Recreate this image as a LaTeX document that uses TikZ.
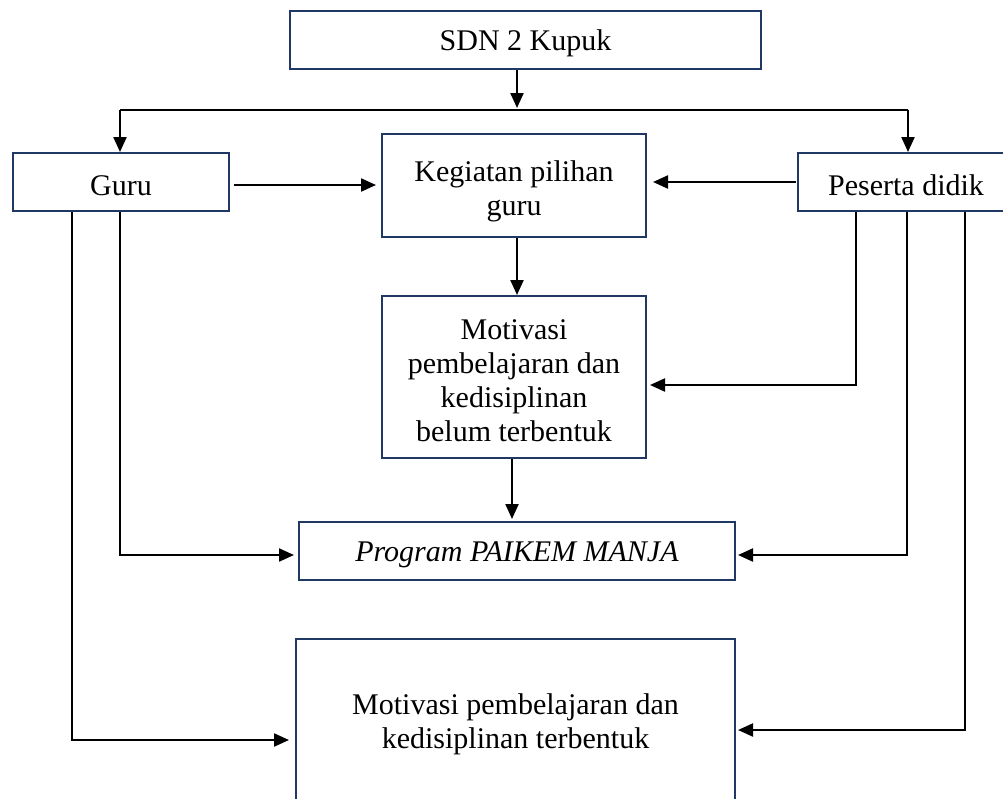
\documentclass[tikz,border=0pt]{standalone}
\usepackage{fontspec}
\setmainfont{Liberation Serif}
\usetikzlibrary{arrows.meta,calc}
\definecolor{boxc}{RGB}{31,56,100}
\newcommand{\lift}[1]{\rule{0pt}{#1}}
\begin{document}
\begin{tikzpicture}[x=1pt,y=-1pt,
  box/.style={draw=boxc,line width=2pt,align=center,inner sep=0pt,
    font=\fontsize{30}{34}\selectfont},
  ln/.style={line width=2.2pt},
  arr/.style={line width=2.2pt,-{Triangle[length=15pt,width=13pt]}}]
\useasboundingbox (0,0) rectangle (1003,798);
\clip (0,0) rectangle (1003,798);
\fill[white] (0,0) rectangle (1003,798);

\node[box,minimum width=471pt,minimum height=58pt] (sdn) at (525.5,40) {\lift{28pt}SDN 2 Kupuk};
\node[box,minimum width=216pt,minimum height=58pt] (guru) at (121,182) {\lift{28pt}Guru};
\node[box,minimum width=264pt,minimum height=103pt] (keg) at (514,185.5) {\lift{33pt}Kegiatan pilihan\\guru};
\node[box,minimum width=216pt,minimum height=58pt] (pes) at (906,182) {\lift{28pt}Peserta didik};
\node[box,minimum width=264pt,minimum height=162pt] (mot) at (514,377) {\lift{27pt}Motivasi\\pembelajaran dan\\kedisiplinan\\belum terbentuk};
\node[box,minimum width=436pt,minimum height=58pt] (prog) at (517,551) {\lift{28pt}\itshape Program PAIKEM MANJA};
\node[box,minimum width=439pt,minimum height=163pt] (fin) at (515.5,720.5) {\lift{29pt}Motivasi pembelajaran dan\\kedisiplinan terbentuk};

% top distribution
\coordinate (j) at (517,110);
\coordinate (bl) at (120,110);
\coordinate (br) at (908,110);
\draw[arr] (sdn.south -| j) -- ($(j)+(0,-2)$);
\draw[ln] (bl) -- (br);
\draw[arr] (bl) -- (bl |- guru.north);
\draw[arr] (br) -- (br |- pes.north);

% into Kegiatan
\draw[arr] ($(guru.east)+(4,3)$) -- ($(keg.west |- guru.east)+(-5,3)$);
\draw[arr] ($(pes.west)+(-1,0)$) -- ($(keg.east |- pes.west)+(6,0)$);

% Kegiatan -> Motivasi
\draw[arr] ($(keg.south)+(3,0)$) -- ($(mot.north)+(3,0)$);

% Peserta -> Motivasi
\coordinate (p1) at (856,385);
\draw[arr] (p1 |- pes.south) -- (p1) -- ($(p1 -| mot.east)+(3,0)$);

% Motivasi -> Program
\draw[arr] ($(mot.south)+(-2,0)$) -- ($(mot.south)+(-2,60)$);

% Guru -> Program, Peserta -> Program
\coordinate (g1) at (120,555);
\draw[arr] (g1 |- guru.south) -- (g1) -- ($(g1 -| prog.west)+(-4,0)$);
\coordinate (p2) at (907,555);
\draw[arr] (p2 |- pes.south) -- (p2) -- ($(p2 -| prog.east)+(2,0)$);

% Guru -> Final, Peserta -> Final
\coordinate (g2) at (72,740);
\draw[arr] (g2 |- guru.south) -- (g2) -- ($(g2 -| fin.west)+(-6,0)$);
\coordinate (p3) at (965,730);
\draw[arr] (p3 |- pes.south) -- (p3) -- ($(p3 -| fin.east)+(2,0)$);
\end{tikzpicture}
\end{document}
